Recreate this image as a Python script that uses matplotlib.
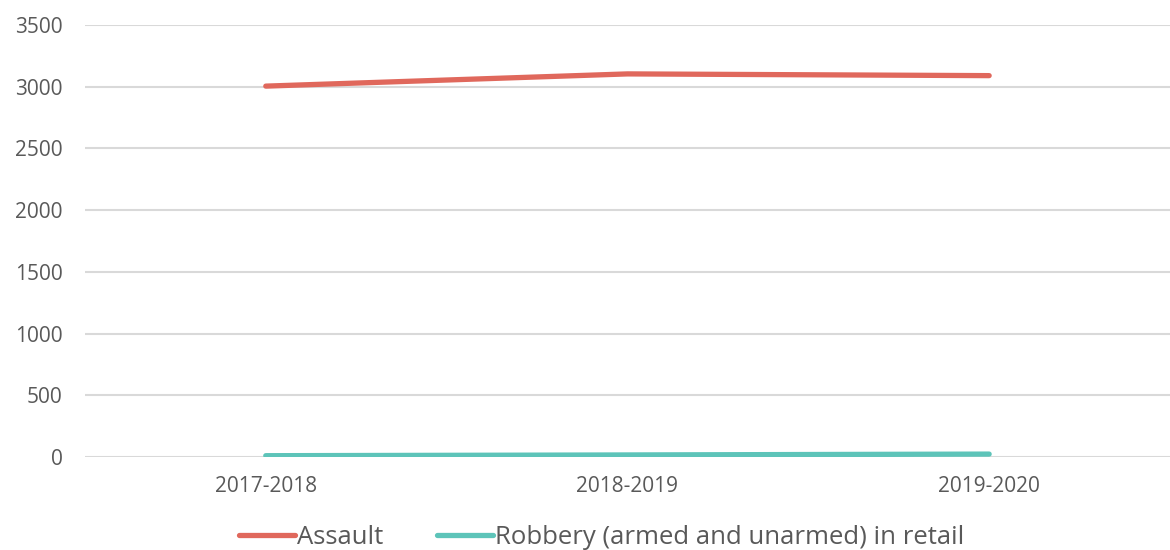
import numpy as np
import matplotlib.pyplot as plt

years = ['2017-2018', '2018-2019', '2019-2020']
assault = [3005, 3104, 3090]
robbery = [11, 17, 24]

plt.rcParams['font.family'] = ['Open Sans', 'DejaVu Sans']

fig = plt.figure(figsize=(11.7, 5.5), dpi=100)
ax = fig.add_axes([0.0726, 0.169, 0.9274, 0.7855])

x = np.arange(len(years))
ax.plot(x, assault, color='#E0685C', lw=3.8, solid_capstyle='round', label='Assault')
ax.plot(x, robbery, color='#5DC4B9', lw=3.8, solid_capstyle='round',
        label='Robbery (armed and unarmed) in retail')

ax.set_xlim(-0.5, 2.5)
ax.set_ylim(0, 3500)
ax.set_yticks(np.arange(0, 3501, 500))
ax.set_xticks(x)
ax.set_xticklabels(years)
ax.yaxis.grid(True, color='#D9D9D9', lw=1.5)
ax.set_axisbelow(True)
for s in ax.spines.values():
    s.set_visible(False)
ax.tick_params(length=0, labelsize=15, colors='#595959')
ax.tick_params(axis='x', pad=14)
ax.tick_params(axis='y', pad=16)

leg = ax.legend(loc='upper center', bbox_to_anchor=(0.476, -0.158), ncol=2, frameon=False,
                fontsize=18.5, handlelength=2.2, handletextpad=0.05, columnspacing=2.1,
                borderaxespad=0, borderpad=0)
for t in leg.get_texts():
    t.set_color('#595959')

fig.savefig('out.png', dpi=100)
